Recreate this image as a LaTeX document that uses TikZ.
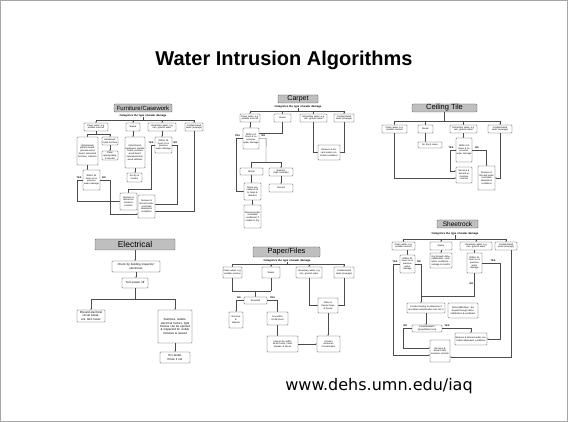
\documentclass[tikz,border=0pt]{standalone}
\usepackage{fontspec}
\setmainfont{Liberation Sans}
\newfontfamily\urlfont{DejaVu Sans}
\usetikzlibrary{arrows.meta,calc}
\tikzset{
 hdr/.style={draw=black!65, fill=black!25, rounded corners=0.8pt, line width=0.4pt, inner sep=0pt},
 bx/.style={draw=black!75, rounded corners=0.6pt, line width=0.3pt, align=center, inner sep=0.5pt, font=\fontsize{2.3}{2.7}\selectfont, fill=white},
 ebx/.style={font=\fontsize{2.9}{3.3}\selectfont},
 ln/.style={draw=black!70, line width=0.3pt},
 ar/.style={ln, -{Stealth[length=1.3pt,width=1.2pt]}},
 yn/.style={font=\fontsize{2.4}{2.8}\selectfont\bfseries, inner sep=0.2pt},
 sub/.style={font=\fontsize{2.7}{3}\selectfont\bfseries, inner sep=0pt},
}
\newcommand\bxn[7][]{%
 \pgfmathsetmacro\bxw{#5-#3}%
 \pgfmathsetmacro\bxh{#6-#4}%
 \pgfmathsetmacro\bxtw{#5-#3-1}%
 \pgfmathsetmacro\bxcx{(#3+#5)/2}%
 \pgfmathsetmacro\bxcy{(#4+#6)/2}%
 \node[bx,minimum width=\bxw pt,minimum height=\bxh pt,text width=\bxtw pt,#1] (#2) at (\bxcx,\bxcy) {#7};}
\newcommand\hdn[7]{%
 \pgfmathsetmacro\bxw{#4-#2}%
 \pgfmathsetmacro\bxh{#5-#3}%
 \pgfmathsetmacro\bxcx{(#2+#4)/2}%
 \pgfmathsetmacro\bxcy{(#3+#5)/2}%
 \node[hdr,minimum width=\bxw pt,minimum height=\bxh pt,font=\fontsize{#6}{#6}\selectfont] (#1) at (\bxcx,\bxcy) {#7};}
\begin{document}
\begin{tikzpicture}[x=1pt,y=-1pt]
\useasboundingbox (0,0) rectangle (568,422);
\fill[white] (0,0) rectangle (568,422);
\draw[black!35, line width=0.8pt] (0.5,0.5) rectangle (567.5,421.5);

\node[font=\fontsize{20}{24}\selectfont\bfseries] (title) at (284,60) {Water Intrusion Algorithms};
\node[font=\urlfont\fontsize{16}{19}\selectfont] (url) at (379,386) {www.dehs.umn.edu/iaq};

% ---------------- Furniture/Casework
\hdn{fH}{114}{104}{172}{112}{6}{Furniture/Casework}
\node[sub] (fSub) at (143,115.5) {Categorize the type of water damage};
\coordinate (fT) at (143,120);
\draw[ln] (fSub.south) -- (fT);
\bxn{fC1}{84}{123}{108}{131}{Clean water, e.g.\\potable sources}
\bxn{fC2}{126}{123}{140}{131}{Steam}
\bxn{fC3}{148}{123}{176}{131}{Unsanitary water, e.g.\\rain, ground water}
\bxn{fC4}{185}{123}{203}{131}{Contaminated\\water (sewage)}
\draw[ln] (fC1.north |- fT) -- (fC4.north |- fT);
\foreach \n in {fC1,fC2,fC3,fC4} \draw[ar] (\n.north |- fT) -- (\n.north);
\bxn{fA}{77}{137}{98}{165}{Upholstered, particle board, pressed wood board, laminated furniture, cabinets}
\bxn{fB}{102}{137}{118}{145}{Hardwood/ metal furniture}
\bxn{fB2}{102}{151}{118}{160}{Clean appropriately \& monitor}
\bxn{fS}{125}{137}{145}{168}{Upholstered, hardwood, particle board, pressed wood board, laminated hardwood cabinets}
\bxn{fS2}{127}{173}{142}{182}{Air dry \& monitor}
\bxn{fU}{155}{137}{172}{153}{Within 24 hours \& no previous water damage}
\bxn{fW}{83}{170}{100}{190}{Within 24 hours \& no previous water damage}
\bxn{fM}{120}{193}{137}{210}{Remove \& discard w/ moisture controls}
\bxn{fX}{138}{195}{155}{218}{Remove \& discard under controlled abatement conditions}
\coordinate (fJ) at (96,134);
\draw[ln] (fC1.south) -- (fJ);
\draw[ln] (fA.north |- fJ) -- (fB.north |- fJ);
\draw[ar] (fA.north |- fJ) -- (fA.north);
\draw[ar] (fB.north |- fJ) -- (fB.north);
\draw[ar] (fB.south) -- (fB2.north);
\draw[ar] (fC2.south) -- (fC2.south |- fS.north);
\draw[ar] (fS.south) -- (fS.south |- fS2.north);
\draw[ar] (fC3.south) -- (fC3.south |- fU.north);
\draw[ar] (fA.south) -- (fA.south |- fW.north);
\draw[ar] (fW.west) -- ++(-6,0) |- (fM.west);
\draw[ar] (fW.east) -- ++(10,0) |- ([yshift=-7.5pt]fX.west);
\draw[ar] (fU.west) -- ++(-4,0) -- ++(0,44) -| (fM.north);
\draw[ar] (fU.east) -- ++(5,0) |- ([yshift=2pt]fX.east);
\draw[ar] (fC4.south) |- ([yshift=-5pt]fX.east);
\node[yn] (fy1) at (79,177.5) {YES};
\node[yn] (fn1) at (104,177.5) {NO};
\node[yn] (fy2) at (151,142.5) {YES};
\node[yn] (fn2) at (175.5,142.5) {NO};

% ---------------- Carpet
\hdn{cH}{278}{95}{318}{103}{7}{Carpet}
\node[sub] (cSub) at (298,107) {Categorize the type of water damage};
\coordinate (cT) at (298,111);
\draw[ln] (cSub.south) -- (cT);
\bxn{cC1}{240}{114}{260}{122}{Clean water, e.g.\\potable sources}
\bxn{cC2}{274}{114}{291}{122}{Steam}
\bxn{cC3}{300}{114}{327}{122}{Unsanitary water, e.g.\\rain, ground water}
\bxn{cC4}{334}{114}{354}{122}{Contaminated\\water (sewage)}
\draw[ln] (cC1.north |- cT) -- (cC4.north |- cT);
\foreach \n in {cC1,cC2,cC3,cC4} \draw[ar] (\n.north |- cT) -- (\n.north);
\bxn{cW}{243}{128}{259}{149}{Within 24 hours \& no previous water damage}
\bxn{cR}{318}{145}{340}{160}{Remove \& discard under controlled conditions}
\bxn{cWi}{240}{168}{263}{175}{Winter}
\bxn{cSu}{269}{168}{293}{176}{Summer\\(high humidity)}
\bxn{cD}{269}{184}{293}{192}{Discard}
\bxn{cF}{244}{183}{261}{200}{Follow procedures \#8 to clean \& disinfect}
\bxn{cDi}{244}{205}{261}{228}{Discard (under controlled conditions) if unable to dry}
\draw[ar] (cC1.south) -- (cC1.south |- cW.north);
\draw[ar] (cC2.south) |- ([yshift=5pt]cW.east);
\draw[ar] (cC3.south) |- (cR.west);
\draw[ar] (cC4.south) |- (cR.east);
\coordinate (cJ) at (266,162);
\draw[ln] (cW.east) -- ++(7,0) -- (cJ);
\draw[ln] (cWi.north |- cJ) -- (cSu.north |- cJ);
\draw[ar] (cWi.north |- cJ) -- (cWi.north);
\draw[ar] (cSu.north |- cJ) -- (cSu.north);
\draw[ar] (cW.west) -- ++(-7,0) |- (cF.west);
\draw[ar] (cWi.south) -- (cWi.south |- cF.north);
\draw[ar] (cSu.south) -- (cD.north);
\draw[ar] (cF.south) -- (cDi.north);
\node[yn] (cy1) at (237.5,136) {YES};
\node[yn] (cn1) at (263.5,136) {NO};

% ---------------- Ceiling Tile
\hdn{tH}{412}{104}{477}{112}{7.5}{Ceiling Tile}
\coordinate (tT) at (444.5,121);
\draw[ln] (tH.south) -- (tT);
\bxn{tC1}{382}{125}{407}{133}{Clean water, e.g.\\potable sources}
\bxn{tC2}{418}{125}{433}{133}{Steam}
\bxn{tC3}{450}{125}{477}{133}{Unsanitary water, e.g.\\rain, ground water}
\bxn{tC4}{488}{125}{512}{133}{Contaminated\\water (sewage)}
\draw[ln] (tC1.north |- tT) -- (tC4.north |- tT);
\foreach \n in {tC1,tC2,tC3,tC4} \draw[ar] (\n.north |- tT) -- (\n.north);
\bxn{tA}{418}{142}{442}{148}{Air dry \& reuse}
\bxn{tW}{456}{138}{472}{162}{Within 24 hours \& no previous water damage}
\bxn{tM}{456}{167}{472}{183}{Remove \& discard w/ moisture controls}
\bxn{tX}{478}{166}{495}{190}{Remove \& Discard under controlled abatement conditions}
\draw[ar] (tC2.south) -- (tC2.south |- tA.north);
\draw[ar] (tC3.south) -- (tC3.south |- tW.north);
\draw[ar] (tC1.south) |- ([yshift=-3pt]tM.west);
\draw[ar] (tW.west) -- ++(-6,0) |- ([yshift=4pt]tM.west);
\draw[ar] (tW.east) -| (tX.north);
\draw[ar] (tC4.south) |- (tX.east);
\node[yn] (ty1) at (451,147.5) {YES};
\node[yn] (tn1) at (477,147.5) {NO};

% ---------------- Electrical
\hdn{eH}{95}{239}{175}{250}{8.5}{Electrical}
\bxn[ebx]{eK}{112}{261}{160}{272}{Check by building inspector/\\electrician}
\bxn[ebx]{eT}{122}{278}{148}{288}{Turn power off}
\bxn[ebx]{eD}{77}{310}{105}{322}{Discard electrical circuit breakers, GFL fuses}
\bxn[ebx]{eS}{158}{310}{192}{343}{Switches, outlets, electrical motors, light fixtures can be opened \& inspected for visible moisture \& reused}
\bxn[ebx]{eI}{160}{352}{190}{363}{If in doubt,\\throw it out}
\coordinate (eJ) at (135,299);
\draw[ar] (eH.south) -- (eH.south |- eK.north);
\draw[ar] (eK.south) -- (eK.south |- eT.north);
\draw[ln] (eT.south) -- (eJ);
\draw[ln] (eD.north |- eJ) -- (eS.north |- eJ);
\draw[ar] (eD.north |- eJ) -- (eD.north);
\draw[ar] (eS.north |- eJ) -- (eS.north);
\draw[ar] (eS.south) -- (eI.north);

% ---------------- Paper/Files
\hdn{pH}{253}{247}{320}{257}{7.5}{Paper/Files}
\node[sub] (pSub) at (287,260.5) {Categorize the type of water damage};
\coordinate (pT) at (287,264);
\draw[ln] (pSub.south) -- (pT);
\bxn{pC1}{223}{267}{242}{278}{Clean water, e.g.\\potable sources}
\bxn{pC2}{262}{267}{280}{278}{Steam}
\bxn{pC3}{296}{267}{322}{278}{Unsanitary water, e.g.\\rain, ground water}
\bxn{pC4}{334}{267}{354}{278}{Contaminated\\water (sewage)}
\draw[ln] (pC1.north |- pT) -- (pC4.north |- pT);
\foreach \n in {pC1,pC2,pC3,pC4} \draw[ar] (\n.north |- pT) -- (\n.north);
\bxn{pE}{244}{297}{267}{304}{Essential}
\bxn{pRd}{229}{312}{243}{328}{Remove\\\&\\dispose}
\bxn{pDw}{267}{312}{288}{325}{Dry within\\24-48 hours}
\bxn{pCd}{267}{336}{298}{352}{Cannot dry within 24-48 hours, clean w/water \& freeze}
\bxn{pP}{318}{298}{338}{313}{Place in\\freezer bags\\\& freeze}
\bxn{pCt}{317}{336}{340}{352}{Contact\\American\\Conservation}
\coordinate (pJ) at (255.5,291);
\draw[ln] (pC1.south) |- (pC2.south |- pJ);
\draw[ln] (pC2.south) -- (pC2.south |- pJ);
\draw[ar] (pJ) -- (pJ |- pE.north);
\draw[ar] (pE.west) -| (pRd.north);
\draw[ar] (pE.east) -| (pDw.north);
\draw[ar] (pDw.south) -- (pDw.south |- pCd.north);
\draw[ar] (pC3.south) |- (pP.west);
\draw[ar] (pC4.south) |- (pP.east);
\draw[ar] (pP.south) -- (pP.south |- pCt.north);
\draw[ar] (pCd.east) -- (pCd.east -| pCt.west);
\node[yn] (pn1) at (239,297.5) {NO};
\node[yn] (py1) at (272.5,297.5) {YES};

% ---------------- Sheetrock
\hdn{sH}{437}{220}{478}{228}{6.5}{Sheetrock}
\node[sub] (sSub) at (455,234) {Categorize the type of water damage};
\coordinate (sT0) at (455,239);
\draw[ln] (sSub.south) -- (sT0);
\bxn{sC1}{392}{242}{415}{250}{Clean water, e.g.\\potable sources}
\bxn{sC2}{430}{242}{452}{250}{Steam}
\bxn{sC3}{460}{242}{492}{250}{Unsanitary water, e.g.\\rain, ground water}
\bxn{sC4}{495}{242}{517}{250}{Contaminated\\water (sewage)}
\draw[ln] (sC1.north |- sT0) -- (sC4.north |- sT0);
\foreach \n in {sC1,sC2,sC3,sC4} \draw[ar] (\n.north |- sT0) -- (\n.north);
\bxn{sW1}{400}{255}{415}{273}{Within 24 hours \& no previous water damage}
\bxn{sD}{430}{253}{452}{268}{Dry through dehumidification, ventilation conditions -- salvage \& monitor}
\bxn{sW2}{467}{253}{482}{273}{Within 24 hours \& no previous water damage}
\bxn{sT}{407}{303}{445}{313}{Conduct testing to determine if microbial contamination has set in}
\bxn{sDh}{448}{303}{478}{318}{Dehumidification: dry drywall through dehumidification \& ventilation}
\bxn{sQ}{412}{325}{442}{332}{Contaminated?\\(Quantitation test)}
\bxn{sX}{455}{333}{487}{345}{Remove \& discard under controlled abatement conditions}
\bxn{sM}{430}{340}{450}{362}{Remove \& discard with moisture controls}
\draw[ar] (sC1.south -| sW1.north) -- (sW1.north);
\draw[ar] (sC2.south) -- (sC2.south |- sD.north);
\draw[ar] (sC3.south -| sW2.north) -- (sW2.north);
\draw[ar] (sW1.west) -- ++(-7,0) |- ([yshift=-4pt]sM.west);
\draw[ar] (sW1.east) -| ([xshift=-5pt]sT.north);
\coordinate (sJ) at (421,296);
\draw[ln] (sW2.south) |- (sJ);
\draw[ar] (sW2.east) -- ++(18,0) |- (sX.east);
\draw[ar] ([xshift=5pt]sC4.south) |- ([yshift=-6pt]sM.east);
\draw[ar] (sT.south) -- (sT.south |- sQ.north);
\draw[ar] (sQ.west) -- ++(-9,0) |- ([yshift=3pt]sM.west);
\draw[ar] (sQ.east) -| (sX.north);
\node[yn] (sy1) at (395,261.5) {YES};
\node[yn] (sn1) at (419,261.5) {NO};
\node[yn] (sy2) at (493,260.5) {YES};
\node[yn] (sn2) at (471.5,284) {NO};
\node[yn] (sn3) at (405.5,326) {NO};
\node[yn] (sy3) at (447,326) {YES};
\end{tikzpicture}
\end{document}
